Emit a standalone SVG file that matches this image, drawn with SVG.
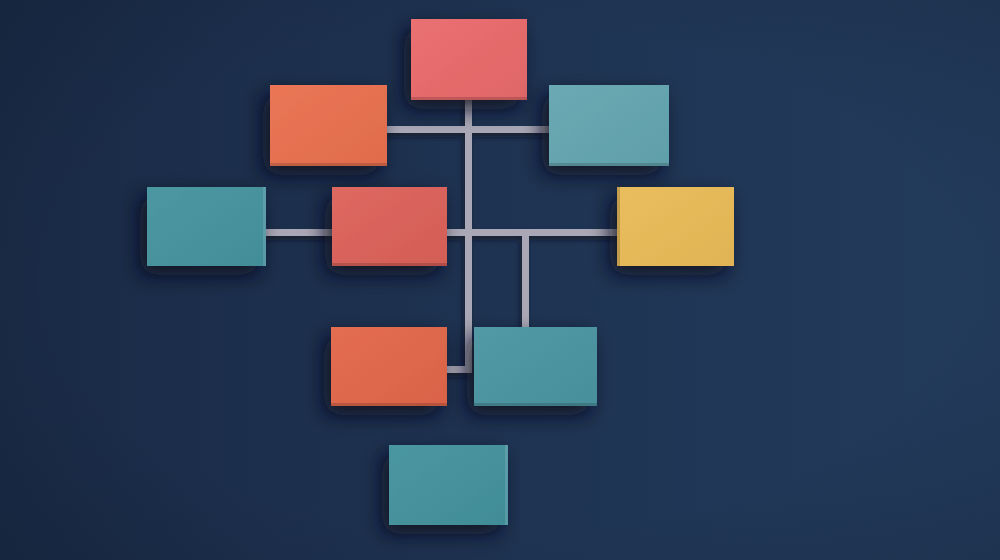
<svg xmlns="http://www.w3.org/2000/svg" width="1000" height="560" viewBox="0 0 1000 560">
  <defs>
    <linearGradient id="bgLin" x1="0" y1="0" x2="1" y2="0">
      <stop offset="0" stop-color="#192a45"/>
      <stop offset="0.5" stop-color="#1e3352"/>
      <stop offset="1" stop-color="#233b5c"/>
    </linearGradient>
    <radialGradient id="vig" cx="0.5" cy="0.5" r="0.75">
      <stop offset="0.6" stop-color="#0a1424" stop-opacity="0"/>
      <stop offset="1" stop-color="#0a1424" stop-opacity="0.25"/>
    </radialGradient>
    <filter id="shadow" x="-40%" y="-40%" width="180%" height="190%">
      <feDropShadow dx="-7" dy="9" stdDeviation="10" flood-color="#08111f" flood-opacity="0.85"/>
    </filter>
    <filter id="lineShadow" x="-20%" y="-20%" width="140%" height="140%">
      <feDropShadow dx="-2" dy="4" stdDeviation="2.5" flood-color="#08111f" flood-opacity="0.6"/>
    </filter>
    <linearGradient id="sheen" x1="0" y1="0" x2="1" y2="1">
      <stop offset="0" stop-color="#ffffff" stop-opacity="0.04"/>
      <stop offset="1" stop-color="#000000" stop-opacity="0.04"/>
    </linearGradient>
  </defs>
  <style>
    .box { filter: url(#shadow); }
    .edge { fill: #000000; opacity: 0.16; }
    .lite { fill: #ffffff; opacity: 0.12; }
    .sheen { fill: url(#sheen); }
    .conn { fill: #aaa8b6; }
  </style>
  <rect width="1000" height="560" fill="url(#bgLin)"/>
  <rect width="1000" height="560" fill="url(#vig)"/>

  <g id="connectors" filter="url(#lineShadow)">
    <rect class="conn" x="386" y="126" width="164" height="7"/>
    <rect class="conn" x="465" y="99" width="7" height="273"/>
    <rect class="conn" x="265" y="229" width="68" height="7"/>
    <rect class="conn" x="446" y="229" width="172" height="7"/>
    <rect class="conn" x="522" y="229" width="7" height="99"/>
    <rect class="conn" x="446" y="366" width="26" height="7"/>
  </g>

  <g id="node-top" class="box">
    <rect x="411" y="19" width="116" height="81" fill="#e96a6b"/>
    <rect class="sheen" x="411" y="19" width="116" height="81"/>
    <rect class="edge" x="411" y="97" width="116" height="3"/>
  </g>
  <g id="node-upper-left" class="box">
    <rect x="270" y="85" width="117" height="81" fill="#e9704f"/>
    <rect class="sheen" x="270" y="85" width="117" height="81"/>
    <rect class="edge" x="270" y="163" width="117" height="3"/>
  </g>
  <g id="node-upper-right" class="box">
    <rect x="549" y="85" width="120" height="81" fill="#64a6b0"/>
    <rect class="sheen" x="549" y="85" width="120" height="81"/>
    <rect class="edge" x="549" y="163" width="120" height="3"/>
  </g>
  <g id="node-left" class="box">
    <rect x="147" y="187" width="119" height="79" fill="#45939e"/>
    <rect class="sheen" x="147" y="187" width="119" height="79"/>
    <rect class="lite" x="263" y="187" width="3" height="79"/>
  </g>
  <g id="node-center" class="box">
    <rect x="332" y="187" width="115" height="79" fill="#dc625a"/>
    <rect class="sheen" x="332" y="187" width="115" height="79"/>
    <rect class="edge" x="332" y="263" width="115" height="3"/>
  </g>
  <g id="node-right" class="box">
    <rect x="617" y="187" width="117" height="79" fill="#e9bb57"/>
    <rect class="sheen" x="617" y="187" width="117" height="79"/>
    <rect class="edge" x="617" y="187" width="3" height="79"/>
  </g>
  <g id="node-lower-left" class="box">
    <rect x="331" y="327" width="116" height="79" fill="#e2674a"/>
    <rect class="sheen" x="331" y="327" width="116" height="79"/>
    <rect class="edge" x="331" y="403" width="116" height="3"/>
  </g>
  <g id="node-lower-right" class="box">
    <rect x="474" y="327" width="123" height="79" fill="#4b95a2"/>
    <rect class="sheen" x="474" y="327" width="123" height="79"/>
    <rect class="edge" x="474" y="403" width="123" height="3"/>
  </g>
  <g id="node-bottom" class="box">
    <rect x="389" y="445" width="119" height="80" fill="#43929d"/>
    <rect class="sheen" x="389" y="445" width="119" height="80"/>
    <rect class="lite" x="505" y="445" width="3" height="80"/>
  </g>
</svg>
